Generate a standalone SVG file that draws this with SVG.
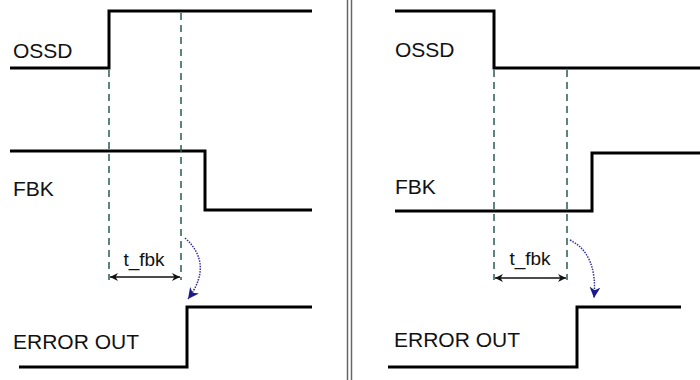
<svg xmlns="http://www.w3.org/2000/svg" width="700" height="380" viewBox="0 0 700 380">
<style>
.sig{fill:none;stroke:#000;stroke-width:3;stroke-linejoin:miter}
.lbl{font-family:"Liberation Sans",Arial,sans-serif;font-size:21px;fill:#111}
.tl{font-family:"Liberation Sans",Arial,sans-serif;font-size:19px;fill:#111;text-anchor:middle}
.dash{stroke:#2a5a54;stroke-width:1.5;stroke-dasharray:7,5;fill:none}
.dim{stroke:#111;stroke-width:1.5;fill:none;marker-start:url(#ah);marker-end:url(#ah)}
.arc{fill:none;stroke:#2f2fa0;stroke-width:1.5;stroke-dasharray:1.5,1.2;marker-end:url(#bh)}
.sep{stroke:#666;stroke-width:1.5}
</style>
<defs>
<marker id="ah" viewBox="0 0 10 10" refX="10" refY="5" markerWidth="8" markerHeight="8" markerUnits="userSpaceOnUse" orient="auto-start-reverse">
<path d="M0,0 L10,5 L0,10 L3,5 Z" fill="#111"/>
</marker>
<marker id="bh" viewBox="0 0 10 10" refX="10" refY="5" markerWidth="11" markerHeight="11" markerUnits="userSpaceOnUse" orient="auto">
<path d="M0,0 L10,5 L0,10 L3,5 Z" fill="#1a1a8c"/>
</marker>
</defs>
<g id="separator">
<line class="sep" x1="347.5" y1="0" x2="347.5" y2="380"/>
<line class="sep" x1="351.5" y1="0" x2="351.5" y2="380"/>
</g>
<g id="left-ossd">
<path class="sig" d="M10,68 H109 V11 H312"/>
<text class="lbl" x="13" y="58">OSSD</text>
</g>
<g id="left-fbk">
<path class="sig" d="M10,151 H205 V210 H312"/>
<text class="lbl" x="13" y="196">FBK</text>
</g>
<g id="left-error">
<path class="sig" d="M19,367 H187 V307 H312"/>
<text class="lbl" x="13" y="349">ERROR OUT</text>
</g>
<g id="right-ossd">
<path class="sig" d="M395,11 H494 V68 H700"/>
<text class="lbl" x="395" y="57">OSSD</text>
</g>
<g id="right-fbk">
<path class="sig" d="M395,211 H592 V153 H700"/>
<text class="lbl" x="395" y="194">FBK</text>
</g>
<g id="right-error">
<path class="sig" d="M388,367 H577 V307 H681"/>
<text class="lbl" x="394" y="347">ERROR OUT</text>
</g>
<g id="connectors">
<line class="dash" x1="109" y1="70" x2="109" y2="280"/>
<line class="dash" x1="181" y1="13" x2="181" y2="280"/>
<line class="dash" x1="494" y1="70" x2="494" y2="280"/>
<line class="dash" x1="567" y1="70" x2="567" y2="280"/>
<line class="dim" x1="110" y1="277" x2="180" y2="277"/>
<line class="dim" x1="495" y1="278" x2="566" y2="278"/>
<path class="arc" d="M185,238 Q214,264 188,299"/>
<path class="arc" d="M570,240 Q598,254 594,298"/>
</g>
<g id="labels">
<text class="tl" x="144" y="266">t_fbk</text>
<text class="tl" x="530" y="265">t_fbk</text>
</g>
</svg>
